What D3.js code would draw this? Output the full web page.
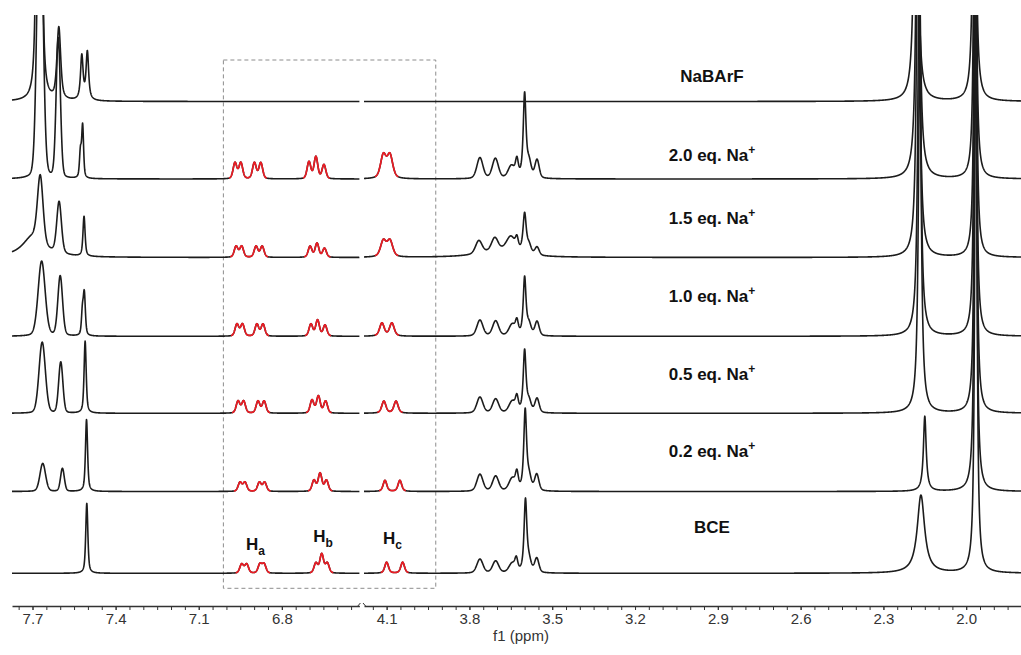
<!DOCTYPE html>
<html>
<head>
<meta charset="utf-8">
<script src="https://cdn.jsdelivr.net/npm/d3@7"></script>
<style>
  body { margin: 0; background: #fff; }
  svg { display: block; font-family: "Liberation Sans", Arial, sans-serif; }
</style>
</head>
<body>
<svg id="chart" width="1021" height="655"></svg>
<script>
// ---- Data -------------------------------------------------------------
// Trace names, top to bottom
const traceNames = ["NaBArF", "2.0 eq. Na+", "1.5 eq. Na+", "1.0 eq. Na+", "0.5 eq. Na+", "0.2 eq. Na+", "BCE"];

// Axis tick labels (ppm) for the two axis segments
const tickLabelsLeft = ["7.7", "7.4", "7.1", "6.8"];
const tickLabelsRight = ["4.1", "3.8", "3.5", "3.2", "2.9", "2.6", "2.3", "2.0"];

// Resonances of each trace: [shift ppm, intensity, half-width ppm, lorentzian fraction, proton]
const peaksNaBArF = [
  [7.684, 260, 0.005, 1], [7.668, 260, 0.005, 1],
  [7.605, 72, 0.008, 0.6],
  [7.522, 44, 0.0055, 0.8], [7.502, 48, 0.0055, 0.8],
  [2.182, 500, 0.006, 1],
  [1.970, 500, 0.005, 1]
];
const peaks20eq = [
  [7.673, 320, 0.012, 0.15], [7.607, 140, 0.009, 0.15],
  [7.527, 26, 0.004, 0.5], [7.519, 52, 0.004, 0.5],
  [6.969, 16, 0.008, 0.3, "Ha"], [6.948, 16, 0.008, 0.3, "Ha"], [6.899, 16, 0.008, 0.3, "Ha"], [6.876, 16, 0.008, 0.3, "Ha"],
  [6.702, 17, 0.008, 0.3, "Hb"], [6.677, 22, 0.008, 0.3, "Hb"], [6.648, 14, 0.008, 0.3, "Hb"],
  [4.112, 23, 0.012, 0.5, "Hc"], [4.088, 23, 0.012, 0.5, "Hc"],
  [3.762, 21, 0.013, 0.3], [3.706, 20, 0.013, 0.3], [3.648, 12, 0.014, 0.3], [3.628, 16, 0.006, 0.5],
  [3.600, 84, 0.006, 0.8], [3.584, 14, 0.009, 0.4], [3.555, 18, 0.009, 0.3],
  [2.175, 500, 0.006, 1],
  [1.968, 600, 0.004, 1]
];
const peaks15eq = [
  [7.700, 20, 0.045, 1], [7.672, 68, 0.012, 0.3], [7.604, 52, 0.010, 0.3],
  [7.514, 40, 0.0045, 0.6],
  [6.965, 11, 0.008, 0.3, "Ha"], [6.945, 11, 0.008, 0.3, "Ha"], [6.893, 11, 0.008, 0.3, "Ha"], [6.871, 11, 0.008, 0.3, "Ha"],
  [6.698, 11, 0.008, 0.3, "Hb"], [6.673, 14, 0.008, 0.3, "Hb"], [6.646, 9, 0.008, 0.3, "Hb"],
  [4.112, 16, 0.012, 0.5, "Hc"], [4.088, 16, 0.012, 0.5, "Hc"],
  [3.700, 6, 0.08, 1],
  [3.766, 13, 0.014, 0.3], [3.708, 13, 0.014, 0.3], [3.650, 16, 0.02, 0.5], [3.628, 10, 0.006, 0.5],
  [3.600, 40, 0.007, 0.8], [3.584, 8, 0.009, 0.4], [3.555, 8, 0.009, 0.3],
  [2.174, 450, 0.006, 1],
  [1.967, 600, 0.004, 1]
];
const peaks10eq = [
  [7.667, 75, 0.015, 0.2], [7.600, 60, 0.010, 0.2],
  [7.520, 22, 0.004, 0.5], [7.513, 42, 0.0045, 0.5],
  [6.962, 12, 0.008, 0.3, "Ha"], [6.942, 12, 0.008, 0.3, "Ha"], [6.890, 12, 0.008, 0.3, "Ha"], [6.868, 12, 0.008, 0.3, "Ha"],
  [6.695, 12, 0.008, 0.3, "Hb"], [6.671, 16, 0.008, 0.3, "Hb"], [6.644, 11, 0.008, 0.3, "Hb"],
  [4.117, 13, 0.010, 0.5, "Hc"], [4.081, 13, 0.010, 0.5, "Hc"],
  [3.762, 16, 0.013, 0.3], [3.705, 15, 0.013, 0.3], [3.645, 11, 0.014, 0.3], [3.628, 12, 0.006, 0.5],
  [3.600, 58, 0.006, 0.8], [3.584, 10, 0.009, 0.4], [3.555, 14, 0.009, 0.3],
  [2.170, 400, 0.006, 1],
  [1.967, 650, 0.004, 1]
];
const peaks05eq = [
  [7.665, 71, 0.0135, 0.15], [7.598, 51, 0.009, 0.15],
  [7.510, 72, 0.0045, 0.6],
  [6.958, 12, 0.008, 0.3, "Ha"], [6.938, 12, 0.008, 0.3, "Ha"], [6.886, 12, 0.008, 0.3, "Ha"], [6.864, 12, 0.008, 0.3, "Ha"],
  [6.691, 13, 0.008, 0.3, "Hb"], [6.668, 17, 0.008, 0.3, "Hb"], [6.642, 12, 0.008, 0.3, "Hb"],
  [4.110, 12, 0.009, 0.5, "Hc"], [4.066, 12, 0.009, 0.5, "Hc"],
  [3.762, 16, 0.013, 0.3], [3.705, 14, 0.013, 0.3], [3.645, 11, 0.014, 0.3], [3.628, 13, 0.006, 0.5],
  [3.600, 62, 0.006, 0.8], [3.584, 10, 0.009, 0.4], [3.555, 14, 0.009, 0.3],
  [2.168, 380, 0.006, 1],
  [1.966, 650, 0.004, 1]
];
const peaks02eq = [
  [7.663, 28, 0.012, 0.2], [7.592, 23, 0.008, 0.2],
  [7.505, 72, 0.0045, 0.6],
  [6.951, 9, 0.008, 0.3, "Ha"], [6.933, 9, 0.008, 0.3, "Ha"], [6.881, 9, 0.008, 0.3, "Ha"], [6.862, 9, 0.008, 0.3, "Ha"],
  [6.684, 11, 0.008, 0.3, "Hb"], [6.662, 18, 0.008, 0.3, "Hb"], [6.639, 11, 0.008, 0.3, "Hb"],
  [4.106, 11, 0.008, 0.5, "Hc"], [4.052, 11, 0.008, 0.5, "Hc"],
  [3.762, 17, 0.013, 0.3], [3.705, 15, 0.013, 0.3], [3.645, 12, 0.014, 0.3], [3.628, 15, 0.006, 0.5],
  [3.598, 80, 0.006, 0.8], [3.584, 12, 0.009, 0.4], [3.556, 16, 0.009, 0.3],
  [2.150, 75, 0.006, 1],
  [1.966, 700, 0.004, 1]
];
const peaksBCE = [
  [7.504, 70, 0.0045, 0.6],
  [6.945, 9, 0.008, 0.3, "Ha"], [6.927, 9, 0.008, 0.3, "Ha"], [6.879, 9, 0.008, 0.3, "Ha"], [6.864, 9, 0.008, 0.3, "Ha"],
  [6.677, 10, 0.008, 0.3, "Hb"], [6.656, 19, 0.008, 0.3, "Hb"], [6.636, 10, 0.008, 0.3, "Hb"],
  [4.100, 11, 0.008, 0.5, "Hc"], [4.042, 11, 0.008, 0.5, "Hc"],
  [3.762, 14, 0.013, 0.3], [3.705, 12, 0.013, 0.3], [3.645, 9, 0.014, 0.3], [3.630, 11, 0.006, 0.5],
  [3.597, 72, 0.006, 0.8], [3.584, 10, 0.009, 0.4], [3.556, 14, 0.009, 0.3],
  [2.164, 78, 0.016, 1],
  [1.965, 700, 0.004, 1]
];

const traces = [peaksNaBArF, peaks20eq, peaks15eq, peaks10eq, peaks05eq, peaks02eq, peaksBCE];

// ---- Layout -------------------------------------------------------------
const svg = d3.select("#chart");
const axisY = 606;
const plotTop = 15;
const baseY = [101.5, 179, 257.5, 336.3, 413.3, 491.5, 573.3];
const labelRise = [20, 18, 34, 34, 33, 35, 40];
const ink = "#1c1c1c";
const red = "#ec1c24";

// Broken ppm axis: aromatic segment and aliphatic segment
const xL = d3.scaleLinear().domain([7.774, 6.52]).range([12, 359.4]);
const xR = d3.scaleLinear().domain([4.182, 1.80]).range([364, 1021.4]);
const segments = [xL, xR];
// Intensity units to pixel rise above a trace baseline
const yI = d3.scaleLinear().domain([0, 100]).range([0, 100]);

function lineShape(p, x) {
  const c = p[0], h = p[1], g = p[2], eta = p[3];
  const d = (x - c) / g;
  return h * (eta / (1 + d * d) + (1 - eta) * Math.exp(-Math.LN2 * d * d));
}
function intensityAt(peaks, x) {
  let s = 0;
  for (const p of peaks) s += lineShape(p, x);
  return s;
}
function sampleRange(a, b) {
  const step = 0.0007;
  const out = [];
  for (let v = a; v >= b; v -= step) out.push(v);
  out.push(b);
  return out;
}

svg.append("defs").append("clipPath").attr("id", "plotClip")
  .append("rect").attr("x", 0).attr("y", plotTop).attr("width", 1021).attr("height", axisY - plotTop);

// Dashed frame around the Ha, Hb and Hc signals
svg.append("rect")
  .attr("x", xL(7.011)).attr("y", 60)
  .attr("width", xR(3.922) - xL(7.011)).attr("height", 528.3)
  .attr("fill", "none").attr("stroke", "#8c8c8c").attr("stroke-width", 1)
  .attr("stroke-dasharray", "4,3");

const plot = svg.append("g").attr("clip-path", "url(#plotClip)");

traces.forEach((peaks, i) => {
  const base = baseY[i];
  const g = plot.append("g").attr("class", "trace");
  segments.forEach(sc => {
    const [a, b] = sc.domain();
    const pts = sampleRange(a, b).map(v => [v, intensityAt(peaks, v)]);
    const line = d3.line().x(d => sc(d[0])).y(d => base - yI(d[1]));
    g.append("path").attr("d", line(pts))
      .attr("fill", "none").attr("stroke", ink).attr("stroke-width", 1.6)
      .attr("stroke-linejoin", "round");
  });
  // Ha / Hb / Hc multiplets drawn in red
  const groups = d3.group(peaks.filter(p => p[4]), p => p[4]);
  groups.forEach(list => {
    const gw = d3.max(list, p => p[2]);
    const pad = 2.2 * gw + 0.004;
    const hi = d3.max(list, p => p[0]) + pad;
    const lo = d3.min(list, p => p[0]) - pad;
    const sc = hi > 5 ? xL : xR;
    const pts = sampleRange(hi, lo).map(v => [v, intensityAt(peaks, v)]);
    const line = d3.line().x(d => sc(d[0])).y(d => base - yI(d[1]));
    g.append("path").attr("d", line(pts))
      .attr("fill", "none").attr("stroke", red).attr("stroke-width", 1.7)
      .attr("stroke-linejoin", "round");
  });
});

// Trace labels
traceNames.forEach((name, i) => {
  const t = svg.append("text")
    .attr("x", 712).attr("y", baseY[i] - labelRise[i])
    .attr("text-anchor", "middle")
    .attr("font-size", 17).attr("font-weight", "bold").attr("fill", "#111");
  if (name.endsWith("+")) {
    t.append("tspan").text(name.slice(0, -1));
    t.append("tspan").text("+").attr("font-size", 12).attr("dy", -7);
  } else {
    t.text(name);
  }
});

// Proton labels
const protonLabels = [["H", "a", xL(6.929), 550], ["H", "b", xL(6.687), 542], ["H", "c", xR(4.113), 544]];
protonLabels.forEach(([m, s, x, y]) => {
  const t = svg.append("text").attr("x", x).attr("y", y)
    .attr("text-anchor", "start").attr("font-size", 17).attr("font-weight", "bold").attr("fill", "#111");
  t.append("tspan").text(m);
  t.append("tspan").text(s).attr("font-size", 12).attr("dy", 5);
});

// Axis segments
function drawAxis(sc, labels, minorRange) {
  const minor = d3.range(minorRange[0], minorRange[1], -1).map(v => v / 20);
  const gMinor = svg.append("g").attr("transform", `translate(0,${axisY})`)
    .call(d3.axisBottom(sc).tickValues(minor).tickSize(4).tickSizeOuter(0).tickFormat(""));
  gMinor.select(".domain").attr("stroke", "#333").attr("stroke-width", 1.3);
  gMinor.selectAll(".tick line").attr("stroke", "#333").attr("stroke-width", 1);
  const gMajor = svg.append("g").attr("transform", `translate(0,${axisY})`)
    .call(d3.axisBottom(sc).tickValues(labels.map(Number)).tickSize(4).tickPadding(3)
      .tickFormat((d, i) => labels[i]));
  gMajor.select(".domain").remove();
  gMajor.selectAll(".tick line").attr("stroke", "#333").attr("stroke-width", 1);
  gMajor.selectAll(".tick text").attr("font-size", 15).attr("fill", "#333")
    .attr("font-family", "'Liberation Sans', Arial, sans-serif");
}
drawAxis(xL, tickLabelsLeft, [155, 130]);
drawAxis(xR, tickLabelsRight, [83, 36]);

// Break marks at the axis gap
const bx1 = xL.range()[1], bx2 = xR.range()[0];
svg.append("line").attr("x1", bx1 - 2).attr("y1", axisY + 0.5).attr("x2", bx1 + 1).attr("y2", axisY - 3)
  .attr("stroke", "#333").attr("stroke-width", 1);
svg.append("line").attr("x1", bx2 - 1).attr("y1", axisY - 3).attr("x2", bx2 + 2).attr("y2", axisY + 0.5)
  .attr("stroke", "#333").attr("stroke-width", 1);

svg.append("text").attr("x", 521).attr("y", 641).attr("text-anchor", "middle")
  .attr("font-size", 15).attr("fill", "#333").text("f1 (ppm)");
</script>
</body>
</html>
